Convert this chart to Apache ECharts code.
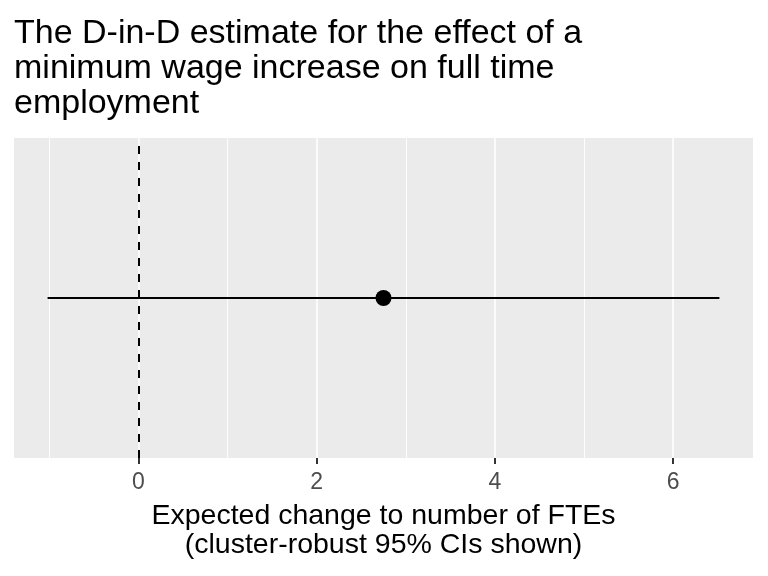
<!DOCTYPE html>
<html>
<head>
<meta charset="utf-8">
<script src="https://cdn.jsdelivr.net/npm/echarts@6/dist/echarts.min.js"></script>
<style>
  html, body { margin: 0; padding: 0; background: #ffffff; }
  #chart { width: 768px; height: 576px; }
</style>
</head>
<body>
<div id="chart"></div>
<script>
// 数据
const estimate = 2.75;
const ciLower = -1.02;
const ciUpper = 6.52;
const majorTicks = [0, 2, 4, 6];
const minorTicks = [-1, 1, 3, 5];
const refLine = 0;

const titleText = 'The D-in-D estimate for the effect of a\nminimum wage increase on full time\nemployment';
const xTitle = 'Expected change to number of FTEs\n(cluster-robust 95% CIs shown)';

// ggplot 风格的 5% 扩展
const span = ciUpper - ciLower;
const xMin = ciLower - 0.05 * span;
const xMax = ciUpper + 0.05 * span;

const font = 'Liberation Sans, Arial, sans-serif';

const chart = echarts.init(document.getElementById('chart'));

const gridLine = (v, w) => ({
  xAxis: v,
  lineStyle: { color: '#ffffff', width: w, type: 'solid' }
});

const option = {
  animation: false,
  backgroundColor: '#ffffff',
  title: {
    text: titleText,
    left: 9,
    top: 11,
    textStyle: {
      fontFamily: font,
      fontSize: 34,
      fontWeight: 'normal',
      color: '#000000',
      lineHeight: 35
    }
  },
  grid: {
    left: 14,
    right: 15,
    top: 138,
    bottom: 118,
    show: true,
    backgroundColor: '#EBEBEB',
    borderWidth: 0
  },
  xAxis: {
    type: 'value',
    min: xMin,
    max: xMax,
    name: xTitle,
    nameLocation: 'middle',
    nameGap: 43,
    nameTextStyle: {
      fontFamily: font,
      fontSize: 28.5,
      color: '#000000',
      lineHeight: 29.5
    },
    axisLine: { show: false, onZero: false },
    axisTick: {
      show: true,
      customValues: majorTicks,
      length: 6,
      lineStyle: { color: '#333333', width: 2 }
    },
    axisLabel: {
      customValues: majorTicks,
      margin: 13,
      fontFamily: font,
      fontSize: 23,
      color: '#4D4D4D'
    },
    splitLine: { show: false }
  },
  yAxis: {
    type: 'value',
    min: 0,
    max: 2,
    show: false
  },
  series: [
    {
      // 网格线
      type: 'line',
      data: [],
      silent: true,
      markLine: {
        silent: true,
        z: 1,
        symbol: ['none', 'none'],
        label: { show: false },
        emphasis: { disabled: true },
        data: majorTicks.map(v => gridLine(v, 1.6)).concat(minorTicks.map(v => gridLine(v, 0.9)))
      }
    },
    {
      // 置信区间
      type: 'line',
      z: 3,
      data: [[ciLower, 1], [ciUpper, 1]],
      symbol: 'none',
      silent: true,
      lineStyle: { color: '#000000', width: 1.8 }
    },
    {
      // 零参考线
      type: 'line',
      data: [],
      silent: true,
      markLine: {
        silent: true,
        z: 4,
        symbol: ['none', 'none'],
        label: { show: false },
        emphasis: { disabled: true },
        data: [{
          xAxis: refLine,
          lineStyle: { color: '#000000', width: 2, type: [8, 8] }
        }]
      }
    },
    {
      // 点估计
      type: 'scatter',
      z: 5,
      data: [[estimate, 1]],
      symbol: 'circle',
      symbolSize: 16,
      silent: true,
      itemStyle: { color: '#000000', opacity: 1 }
    }
  ]
};

chart.setOption(option);

window.addEventListener('resize', function() {
  chart.resize();
});
</script>
</body>
</html>
